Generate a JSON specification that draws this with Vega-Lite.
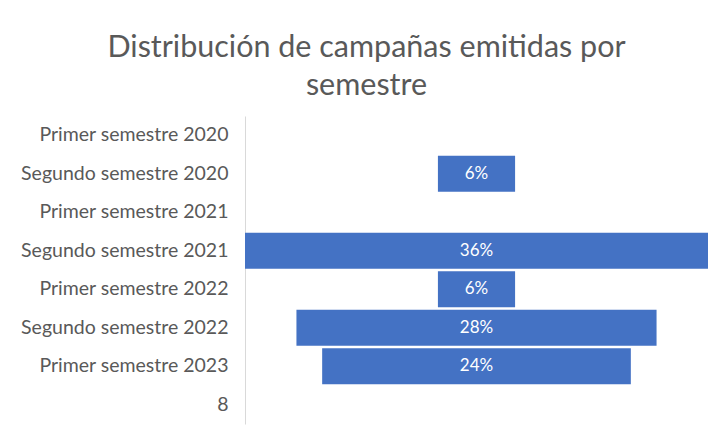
{
  "$schema": "https://vega.github.io/schema/vega-lite/v6.json",
  "width": 463,
  "height": 308,
  "autosize": {"type": "none"},
  "padding": {"left": 245, "top": 116, "right": 10, "bottom": 11},
  "background": "white",
  "config": {"view": {"stroke": null}, "font": "Lato"},
  "title": {
    "text": ["Distribución de campañas emitidas por", "semestre"],
    "anchor": "middle",
    "dx": -110,
    "offset": 15,
    "fontSize": 30.5,
    "fontWeight": "normal",
    "color": "#595959",
    "lineHeight": 38,
    "font": "Lato"
  },
  "data": {
    "values": [
      {"semestre": "Primer semestre 2020", "pct": null},
      {"semestre": "Segundo semestre 2020", "pct": 0.06},
      {"semestre": "Primer semestre 2021", "pct": null},
      {"semestre": "Segundo semestre 2021", "pct": 0.36},
      {"semestre": "Primer semestre 2022", "pct": 0.06},
      {"semestre": "Segundo semestre 2022", "pct": 0.28},
      {"semestre": "Primer semestre 2023", "pct": 0.24},
      {"semestre": "8", "pct": null}
    ]
  },
  "encoding": {
    "y": {
      "field": "semestre",
      "type": "nominal",
      "sort": null,
      "scale": {
        "domain": ["Primer semestre 2020", "Segundo semestre 2020", "Primer semestre 2021", "Segundo semestre 2021", "Primer semestre 2022", "Segundo semestre 2022", "Primer semestre 2023", "8"],
        "paddingInner": 0.06,
        "paddingOuter": 0.03
      },
      "axis": {
        "title": null,
        "ticks": false,
        "domainColor": "#D9D9D9",
        "domainWidth": 1,
        "labelPadding": 17,
        "labelFontSize": 19.5,
        "labelColor": "#595959",
        "labelFont": "Lato",
        "labelLimit": 300
      }
    }
  },
  "layer": [
    {
      "mark": {"type": "bar", "color": "#4472C4"},
      "encoding": {
        "x": {
          "field": "pct",
          "type": "quantitative",
          "stack": "center",
          "scale": {"domain": [0, 0.36], "nice": false, "zero": false},
          "axis": null
        }
      }
    },
    {
      "mark": {"type": "text", "color": "white", "fontSize": 17, "font": "Lato", "baseline": "middle", "align": "center"},
      "encoding": {
        "x": {"datum": 0.18, "type": "quantitative"},
        "text": {"field": "pct", "type": "quantitative", "format": ".0%"}
      }
    }
  ]
}
